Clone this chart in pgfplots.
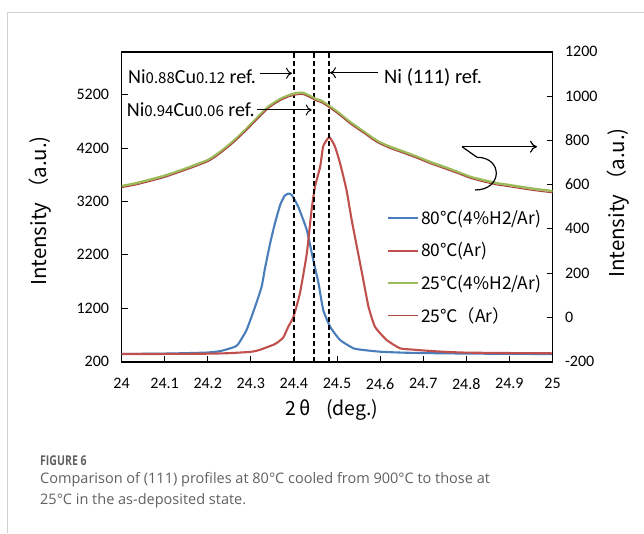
\documentclass[border=0pt]{standalone}
\usepackage{fontspec}
\usepackage{pgfplots}
\pgfplotsset{compat=1.18}
\usetikzlibrary{arrows.meta}
\setmainfont{Carlito}
\newfontfamily\cjk{Noto Sans CJK JP}
\newfontfamily\capfont{Open Sans}
\definecolor{sblue}{HTML}{4A7EBB}
\definecolor{sred}{HTML}{C0504D}
\definecolor{sgreen}{HTML}{9BBB59}
\definecolor{sbrown}{HTML}{A9443F}
\definecolor{cardgray}{HTML}{D0D0D0}
\definecolor{captext}{HTML}{606060}
\newcommand{\sm}[1]{{\cjk\fontsize{15}{15}\selectfont #1}}

\begin{document}
\begin{tikzpicture}[x=1pt,y=1pt]
\useasboundingbox (0,0) rectangle (644,533);
\draw[line width=1pt, cardgray] (644,520.7) -- (7.5,520.7) -- (7.5,0);

\begin{axis}[
  at={(121.5pt,171.3pt)}, anchor=south west,
  scale only axis, width=431pt, height=310pt,
  xmin=24, xmax=25, ymin=200, ymax=6000,
  xtick={24,24.1,24.2,24.3,24.4,24.5,24.6,24.7,24.8,24.9,25},
  ytick={200,1200,2200,3200,4200,5200},
  xtick pos=bottom, ytick pos=left,
  tick align=inside,
  axis line style={line width=1.6pt},
  major tick style={line width=0.8pt, black},
  major tick length=6pt,
  tick label style={font=\fontsize{16}{16}\selectfont},
  /pgf/number format/assume math mode=true,
  /pgf/number format/1000 sep={},
  yticklabel style={xshift=-9pt},
  xticklabel style={yshift=-13pt},
  legend image code/.code={\draw[#1] plot coordinates {(0pt,0pt) (30pt,0pt)};},
  legend cell align=left,
  legend style={at={(0.615,0.495)}, anchor=north west, draw=none, fill=none,
    inner sep=0pt, row sep=12.5pt,
    font=\cjk\fontsize{17.4}{17.4}\selectfont,
    nodes={inner sep=2pt}},
]
\addplot[color=sblue, line width=2.1pt, smooth, tension=0.3] coordinates {
(24.00,345) (24.05,348) (24.10,352) (24.15,360) (24.20,372) (24.23,400)
(24.26,470) (24.27,520) (24.29,790) (24.31,1230) (24.325,1600) (24.333,1950)
(24.345,2420) (24.356,2790) (24.368,3130) (24.378,3300) (24.387,3345)
(24.395,3320) (24.410,3100) (24.430,2660) (24.445,2100) (24.457,1670)
(24.468,1170) (24.484,855) (24.507,606) (24.538,451) (24.56,420) (24.60,387)
(24.65,370) (24.70,362) (24.80,352) (24.90,347) (25.00,343)
};
\addlegendentry{80℃(4\%H2/Ar)}
\addplot[color=sred, line width=2.1pt, smooth, tension=0.3] coordinates {
(24.00,345) (24.10,345) (24.20,350) (24.25,360) (24.30,385) (24.32,420)
(24.356,530) (24.375,650) (24.387,855) (24.399,1040) (24.414,1480)
(24.430,2230) (24.441,3040) (24.449,3480) (24.461,3850) (24.468,4230)
(24.482,4400) (24.495,4230) (24.507,3915) (24.522,3415) (24.534,2855)
(24.549,2230) (24.561,1730) (24.573,1230) (24.588,855) (24.615,606)
(24.646,451) (24.67,430) (24.708,406) (24.75,385) (24.80,370) (24.90,362)
(25.00,357)
};
\addlegendentry{80℃(Ar)}
\addlegendimage{color=sgreen, line width=2.4pt}
\addlegendentry{25℃(4\%H2/Ar)}
\addlegendimage{color=sbrown, line width=1pt}
\addlegendentry{25℃（Ar）}
\draw[line width=1.6pt, dash pattern=on 5pt off 3pt] (axis cs:24.40,200) -- (axis cs:24.40,6000);
\draw[line width=1.6pt, dash pattern=on 5pt off 3pt] (axis cs:24.447,200) -- (axis cs:24.447,6000);
\draw[line width=1.6pt, dash pattern=on 5pt off 3pt] (axis cs:24.481,200) -- (axis cs:24.481,6000);
\end{axis}

\begin{axis}[
  at={(121.5pt,171.3pt)}, anchor=south west,
  scale only axis, width=431pt, height=310pt,
  xmin=24, xmax=25, ymin=-200, ymax=1200,
  axis x line=none, axis y line*=right,
  ytick={-200,0,200,400,600,800,1000,1200},
  tick align=inside,
  axis line style={line width=1.6pt},
  major tick style={line width=0.8pt, black},
  major tick length=6pt,
  tick label style={font=\fontsize{16}{16}\selectfont},
  /pgf/number format/assume math mode=true,
  /pgf/number format/1000 sep={},
  yticklabel style={xshift=9pt},
]
\addplot[color=sgreen, line width=2.4pt, smooth, tension=0.3] coordinates {
(24.000,593) (24.031,605) (24.062,620) (24.100,640) (24.140,666) (24.170,688)
(24.201,711) (24.220,735) (24.240,764) (24.260,797) (24.279,831) (24.295,862)
(24.310,892) (24.325,922) (24.341,952) (24.357,973) (24.372,990) (24.388,1003)
(24.403,1012) (24.415,1015) (24.422,1014) (24.433,1004) (24.453,985)
(24.464,978) (24.484,952) (24.500,930) (24.515,906) (24.530,883) (24.546,861)
(24.565,835) (24.584,809) (24.600,790) (24.623,771) (24.650,752) (24.685,726)
(24.715,703) (24.747,681) (24.780,657) (24.809,635) (24.840,620) (24.871,606)
(24.900,598) (24.932,588) (24.960,580) (24.994,572) (25.000,570)
};
\addplot[color=sbrown, line width=1pt, smooth, tension=0.3] coordinates {
(24.000,586) (24.031,597) (24.062,612) (24.100,632) (24.140,659) (24.170,680)
(24.201,704) (24.220,727) (24.240,757) (24.260,789) (24.279,824) (24.295,854)
(24.310,885) (24.325,914) (24.341,944) (24.357,966) (24.372,983) (24.388,996)
(24.403,1004) (24.415,1007) (24.422,1006) (24.433,997) (24.453,977)
(24.464,970) (24.484,945) (24.500,922) (24.515,899) (24.530,875) (24.546,853)
(24.565,828) (24.584,801) (24.600,783) (24.623,763) (24.650,744) (24.685,719)
(24.715,695) (24.747,673) (24.780,650) (24.809,628) (24.840,612) (24.871,598)
(24.900,590) (24.932,580) (24.960,572) (24.994,564) (25.000,562)
};
\end{axis}

% annotations
\node[anchor=west, inner sep=0pt, font=\fontsize{20}{20}\selectfont] at (128,456.3)
  {Ni\sm{0.88}Cu\sm{0.12} ref.};
\draw[line width=1pt, -{To[length=6pt,width=11pt]}] (260,459.7) -- (292,459.7);
\node[anchor=west, inner sep=0pt, font=\fontsize{20}{20}\selectfont] at (126.7,423)
  {Ni\sm{0.94}Cu\sm{0.06} ref.};
\draw[line width=1pt, -{To[length=6pt,width=11pt]}] (256.7,423) -- (311.7,423);
\node[anchor=west, inner sep=0pt, font=\fontsize{20.5}{20.5}\selectfont] at (384,455.7) {Ni (111) ref.};
\draw[line width=1pt, -{To[length=6pt,width=11pt]}] (378,460.3) -- (330,460.3);

% loop arrow
\draw[line width=1.2pt, -{To[length=7pt,width=12pt]}] (462,386.3) -- (537,386.3);
\draw[line width=1.2pt] (462,386.3) -- (477,375.7) .. controls (503,375.7) and (503,343) .. (475,343);

% axis labels
\node[rotate=90, font=\cjk\fontsize{20.5}{20.5}\selectfont] at (40,322) {Intensity\,（a.u.)};
\node[rotate=90, font=\cjk\fontsize{20.5}{20.5}\selectfont] at (618,330) {Intensity\,（a.u.)};
\node[font=\cjk\fontsize{19.5}{19.5}\selectfont] at (331.7,123) {2\,θ\hspace{0.8em}(deg.)};

% caption
\node[anchor=west, inner sep=0pt, text=captext, font=\capfont\bfseries\fontsize{13.5}{13.5}\selectfont] at (40,72.3) {\scalebox{0.78}[1]{FIGURE 6}};
\node[anchor=west, inner sep=0pt, text=captext, font=\capfont\fontsize{14.5}{14.5}\selectfont] at (40,53.5) {Comparison of (111) profiles at 80°C cooled from 900°C to those at};
\node[anchor=west, inner sep=0pt, text=captext, font=\capfont\fontsize{14.5}{14.5}\selectfont] at (40,32.5) {25°C in the as-deposited state.};
\end{tikzpicture}
\end{document}
